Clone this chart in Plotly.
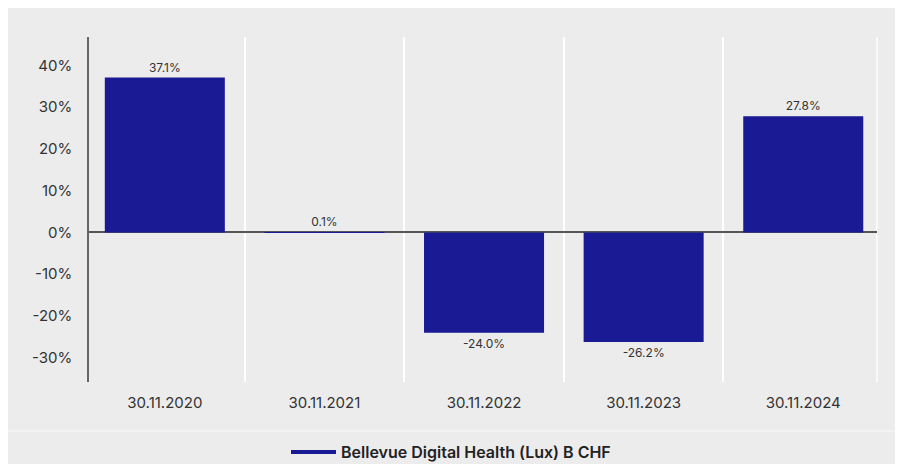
import plotly.graph_objects as go

categories = ["30.11.2020", "30.11.2021", "30.11.2022", "30.11.2023", "30.11.2024"]
values = [37.1, 0.1, -24.0, -26.2, 27.8]
series_name = "Bellevue Digital Health (Lux) B CHF"
y_ticks = [-30, -20, -10, 0, 10, 20, 30, 40]
y_tick_labels = [f"{v}%" for v in y_ticks]

BAR = "#1a1a94"
BG = "#ececec"
FONT = "Inter"

OFF = 8  # page body margin
W, H = 903, 464
# plot area in page coordinates
PL, PR, PT, PB = 89, 877, 37, 382
ML = PL - OFF
MT = PT - OFF
MR = W - (PR - OFF)
MB = H - (PB - OFF)
PW = PR - PL
PH = PB - PT


def px(x):
    return (x - PL) / PW


def py(y):
    return 1 - (y - PT) / PH


fig = go.Figure()
fig.add_trace(go.Bar(
    x=categories, y=values, marker=dict(color=BAR, line=dict(width=0)),
    texttemplate="%{y:.1f}%", textposition="outside",
    textfont=dict(family=FONT, size=12, color="#333"),
    cliponaxis=False, showlegend=False, name=series_name,
))
fig.add_trace(go.Scatter(
    x=[None], y=[None], mode="lines", name=series_name,
    line=dict(color=BAR, width=4), showlegend=True,
))

shapes = [
    dict(type="rect", xref="paper", yref="paper", x0=px(6), x1=px(900), y0=py(470), y1=py(8),
         fillcolor=BG, line=dict(width=0), layer="below"),
    dict(type="line", xref="paper", yref="paper", x0=px(6), x1=px(900), y0=py(431), y1=py(431),
         line=dict(color="#f6f6f6", width=1.5), layer="below"),
    dict(type="line", xref="paper", yref="paper", x0=1, x1=1, y0=0, y1=1,
         line=dict(color="white", width=1.5), layer="below"),
]

fig.update_layout(
    width=W, height=H, autosize=False,
    margin=dict(l=ML, r=MR, t=MT, b=MB, pad=0, autoexpand=False),
    paper_bgcolor="white", plot_bgcolor=BG,
    font=dict(family=FONT, color="#333"),
    bargap=0.248,
    shapes=shapes,
    showlegend=True,
    legend=dict(orientation="h", x=px(286), xanchor="left", y=py(452), yanchor="middle",
                font=dict(family=FONT, size=16, color="#222", weight=600),
                bgcolor="rgba(0,0,0,0)", itemwidth=45),
    xaxis=dict(type="category", range=[-0.475, 4.462], showgrid=True, gridcolor="white",
               gridwidth=1.5, tickson="boundaries", ticks="", showline=False, zeroline=False,
               tickfont=dict(family=FONT, size=15, color="#333"), ticklabelstandoff=10,
               automargin=False, fixedrange=True),
    yaxis=dict(range=[-35.8, 46.8], tickmode="array", tickvals=y_ticks, ticktext=y_tick_labels,
               showgrid=False,
               showline=True, linecolor="#666", linewidth=1.5,
               zeroline=True, zerolinecolor="#555", zerolinewidth=1.5,
               tickfont=dict(family=FONT, size=15, color="#333"), ticks="",
               ticklabelstandoff=12, automargin=False, fixedrange=True),
)

fig.write_html("out.html")
